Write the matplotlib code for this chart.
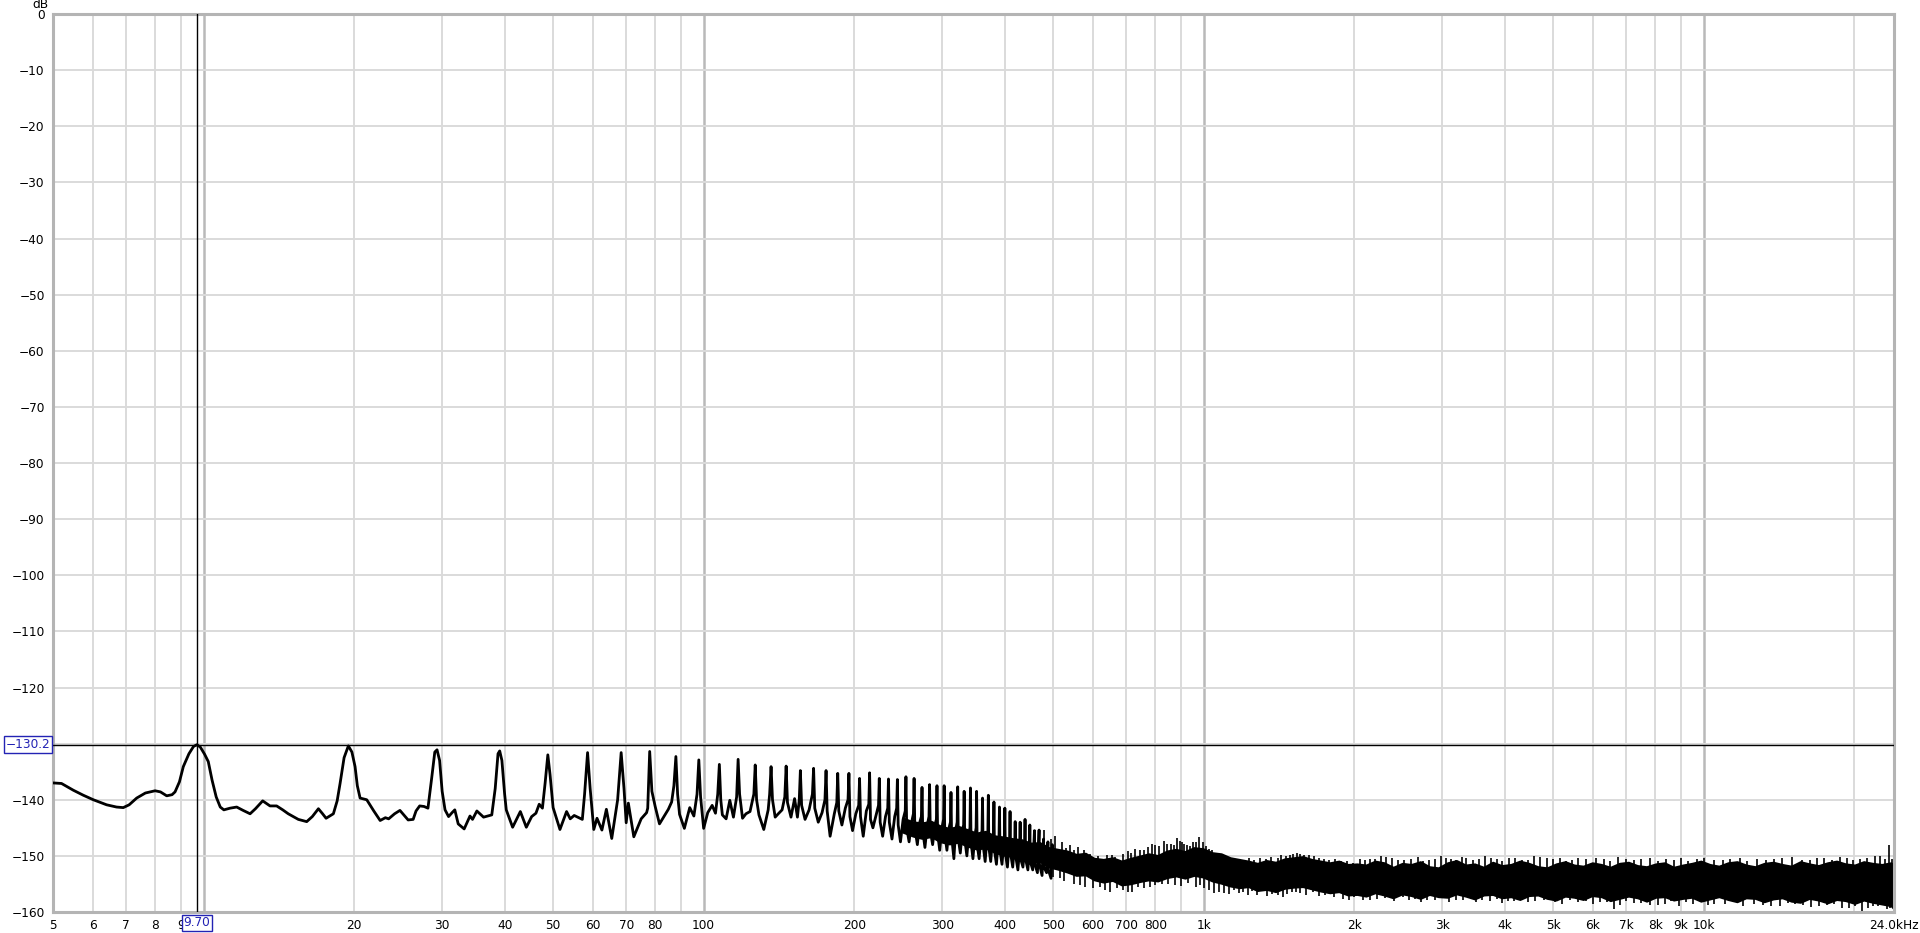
import numpy as np
import matplotlib
matplotlib.use('Agg')
from matplotlib import pyplot as plt
from matplotlib.ticker import NullLocator
from matplotlib.transforms import blended_transform_factory

# Traced line, 5 Hz - 500 Hz (Hz, dB):
trace_freq = [5.0, 5.2, 5.49, 5.75, 6.02, 6.40, 6.70, 6.91, 7.10, 7.35, 7.65, 8.0, 8.2, 8.44, 8.65, 8.77,
              8.95, 9.11, 9.35, 9.55, 9.70, 9.85, 10.05, 10.22, 10.4, 10.6, 10.8, 10.98, 11.3, 11.65, 12.0,
              12.39, 12.7, 13.13, 13.58, 14.0, 14.4, 14.77, 15.47, 16.08, 16.5, 16.97, 17.3, 17.58, 18.18,
              18.5, 18.75, 19.1, 19.48, 19.8, 20.09, 20.3, 20.56, 21.2, 21.9, 22.55, 23.1, 23.45, 24.1, 24.7,
              25.2, 25.65, 26.25, 26.6, 27.05, 27.6, 28.1, 28.6, 29.0, 29.3, 29.65, 30.0, 30.4, 30.9, 31.4,
              31.8, 32.3, 33.2, 34.1, 34.5, 35.2, 36.3, 37.7, 38.3, 38.8, 39.1, 39.5, 40.0, 40.3, 41.5, 43.0,
              44.2, 45.3, 46.2, 46.9, 47.6, 48.2, 48.8, 49.3, 50.0, 51.6, 53.2, 54.1, 55.1, 57.2, 57.8, 58.6,
              59.3, 60.3, 61.2, 62.6, 63.9, 65.5, 67.3, 68.4, 69.3, 70.0, 70.7, 72.5, 75.0, 76.9, 77.3, 78.0,
              78.8, 80.0, 81.6, 85.0, 86.3, 87.2, 88.0, 88.7, 89.5, 91.5, 93.8, 95.6, 97.0, 97.8, 98.6, 100.0,
              101.9, 104.0, 105.6, 106.7, 107.5, 108.2, 109.0, 110.9, 112.8, 114.7, 116.4, 117.2, 118.0,
              119.6, 121.5, 123.8, 126.0, 126.8, 127.6, 129.0, 131.9, 134.6, 135.5, 136.4, 137.3, 139.0,
              141.0, 143.5, 145.3, 146.2, 147.1, 149.5, 152.0, 154.0, 155.3, 156.1, 157.0, 159.5, 162.5,
              165.0, 165.9, 166.8, 169.5, 172.5, 174.8, 175.7, 176.6, 179.0, 182.5, 184.6, 185.4, 186.3,
              189.0, 192.0, 194.4, 195.2, 196.1, 198.5, 201.5, 204.2, 205.0, 205.9, 208.5, 211.5, 213.9,
              214.7, 215.6, 218.0, 221.5, 223.7, 224.5, 225.4, 228.0, 231.0, 233.4, 234.2, 235.1, 238.0,
              241.0, 243.2, 244.0, 244.9, 247.5, 250.5, 253.0, 253.8, 254.7, 257.5, 260.5, 262.7, 263.5,
              264.4, 267.5, 270.5, 272.5, 273.3, 274.2, 277.0, 280.0, 282.2, 283.0, 283.9, 287.0, 290.0,
              292.0, 292.8, 293.7, 296.5, 299.5, 301.8, 302.6, 303.5, 306.5, 309.5, 311.5, 312.3, 313.2,
              316.5, 319.0, 321.3, 322.1, 323.0, 326.0, 329.0, 331.0, 331.8, 332.7, 336.0, 339.0, 340.8,
              341.6, 342.5, 345.5, 348.5, 350.6, 351.4, 352.3, 355.5, 358.5, 360.3, 361.1, 362.0, 365.5,
              368.5, 370.1, 370.9, 371.8, 375.0, 378.0, 379.8, 380.6, 381.5, 385.0, 388.0, 389.6, 390.4,
              391.3, 395.0, 398.0, 399.4, 400.2, 401.1, 405.0, 408.0, 409.1, 409.9, 410.8, 415.0, 418.0,
              418.9, 419.7, 420.6, 425.0, 428.5, 429.4, 430.3, 435.0, 438.3, 439.2, 440.1, 445.0, 448.2,
              449.0, 449.9, 455.0, 458.7, 459.6, 465.0, 468.5, 469.4, 475.0, 478.2, 479.1, 485.0, 488.0,
              489.0, 495.0, 497.7, 500.0]
trace_db = [-137.0, -137.1, -138.3, -139.2, -140.0, -140.9, -141.3, -141.4, -140.9, -139.7, -138.8, -138.4,
            -138.6, -139.3, -139.1, -138.6, -136.8, -134.1, -131.8, -130.5, -130.2, -130.6, -131.9, -133.2,
            -136.5, -139.5, -141.3, -141.8, -141.5, -141.3, -141.9, -142.5, -141.6, -140.2, -141.1, -141.1,
            -141.8, -142.5, -143.5, -143.9, -143.0, -141.6, -142.5, -143.3, -142.5, -140.2, -137.1, -132.5,
            -130.4, -131.5, -134.1, -137.5, -139.7, -140.0, -142.0, -143.7, -143.2, -143.4, -142.5, -141.9,
            -142.8, -143.6, -143.5, -142.0, -141.1, -141.2, -141.5, -136.0, -131.5, -131.1, -133.0, -138.5,
            -141.8, -143.0, -142.3, -141.8, -144.3, -145.2, -142.9, -143.5, -142.0, -143.1, -142.7, -138.0,
            -131.8, -131.3, -133.0, -139.0, -141.8, -144.9, -142.1, -144.9, -143.0, -142.4, -140.8, -141.5,
            -137.0, -132.0, -135.5, -141.4, -145.3, -142.1, -143.4, -142.8, -143.5, -139.0, -131.6, -138.0,
            -145.3, -143.3, -145.4, -141.7, -146.9, -140.0, -131.6, -138.0, -144.1, -140.6, -146.6, -143.4,
            -142.3, -141.5, -131.4, -138.5, -141.2, -144.3, -141.7, -140.4, -137.5, -132.3, -139.0, -142.6,
            -145.1, -141.4, -142.9, -139.0, -132.9, -139.5, -145.1, -142.3, -141.0, -142.4, -139.0, -133.7,
            -140.0, -142.7, -143.4, -140.1, -143.1, -139.5, -132.8, -139.0, -143.3, -142.5, -142.1, -139.0,
            -133.8, -140.0, -142.7, -145.3, -141.8, -139.0, -134.1, -140.0, -143.1, -142.5, -141.8, -139.5,
            -134.0, -140.5, -143.1, -139.8, -143.1, -140.0, -134.8, -141.0, -143.5, -141.8, -139.0, -134.4,
            -141.5, -144.0, -142.3, -140.0, -134.8, -142.0, -146.5, -142.5, -140.5, -135.3, -142.0, -144.5,
            -141.5, -140.0, -135.3, -143.0, -145.5, -142.5, -141.0, -136.2, -143.0, -146.5, -142.0, -140.8,
            -135.2, -143.5, -145.0, -142.5, -141.0, -136.2, -144.0, -146.5, -143.0, -141.5, -136.3, -144.0,
            -147.0, -143.0, -141.5, -136.4, -144.5, -147.5, -143.5, -142.0, -135.9, -145.0, -147.5, -144.0,
            -142.5, -136.2, -145.0, -148.0, -144.0, -143.0, -137.8, -145.5, -148.5, -144.5, -143.0, -137.3,
            -145.5, -148.0, -144.5, -143.5, -137.5, -146.0, -149.0, -145.0, -143.5, -137.5, -146.0, -149.0,
            -145.0, -144.0, -138.7, -146.5, -150.5, -145.5, -144.0, -137.7, -147.0, -149.5, -145.5, -144.5,
            -138.5, -147.0, -150.0, -146.0, -145.0, -137.9, -147.5, -150.5, -146.5, -145.0, -138.5, -148.0,
            -150.5, -146.5, -145.5, -139.7, -148.0, -151.0, -147.0, -145.5, -139.2, -148.5, -151.0, -147.0,
            -146.0, -140.4, -149.0, -151.5, -147.5, -146.5, -141.3, -149.0, -151.5, -148.0, -147.0, -141.5,
            -149.5, -152.0, -148.0, -147.0, -142.1, -149.5, -152.0, -148.5, -147.5, -143.9, -150.0, -152.5,
            -148.5, -144.0, -150.5, -152.0, -148.5, -143.5, -150.5, -152.5, -148.5, -144.5, -151.0, -152.5,
            -145.5, -151.5, -153.0, -145.4, -151.5, -153.5, -147.0, -152.0, -153.0, -147.5, -152.5, -154.0,
            -148.0, -150.5]

# Dense noise band, 250 Hz - 24 kHz (upper and lower edge):
band_freq = [250, 262, 273, 285, 297, 310, 323, 337, 351, 366, 382, 398, 415, 433, 451, 470, 490, 511, 533,
             556, 580, 604, 630, 657, 685, 714, 745, 776, 809, 844, 880, 917, 956, 997, 1040, 1084, 1130,
             1178, 1228, 1280, 1335, 1392, 1451, 1513, 1577, 1644, 1714, 1787, 1863, 1942, 2025, 2111, 2201,
             2295, 2392, 2494, 2600, 2711, 2826, 2946, 3072, 3202, 3339, 3481, 3629, 3783, 3944, 4112, 4287,
             4469, 4659, 4858, 5064, 5280, 5504, 5738, 5982, 6237, 6502, 6779, 7067, 7368, 7681, 8008, 8348,
             8703, 9074, 9460, 9862, 10282, 10719, 11175, 11650, 12146, 12663, 13201, 13763, 14348, 14959,
             15595, 16259, 16950, 17671, 18423, 19207, 20024, 20876, 21764, 22690, 23655, 24000]
band_top = [-143.2, -143.9, -144.1, -143.8, -144.6, -145.1, -144.7, -145.3, -145.9, -145.6, -146.4, -146.6,
            -146.9, -147.1, -147.7, -147.6, -148.5, -148.8, -149.1, -149.7, -149.5, -150.4, -150.6, -150.3,
            -150.9, -150.4, -150.0, -149.6, -149.9, -149.1, -148.8, -149.2, -148.5, -148.7, -149.4, -149.6,
            -150.3, -150.6, -150.9, -151.3, -150.8, -151.1, -150.5, -150.3, -150.1, -150.6, -150.9, -151.2,
            -150.9, -151.5, -151.4, -151.6, -150.9, -151.2, -152.0, -151.3, -151.5, -151.0, -151.9, -152.1,
            -151.2, -150.8, -151.6, -151.4, -152.0, -151.1, -151.7, -151.5, -150.9, -151.3, -151.9, -152.1,
            -151.4, -151.0, -151.6, -151.8, -151.2, -151.5, -152.0, -151.3, -151.1, -151.7, -151.9, -151.4,
            -151.2, -152.0, -151.6, -151.3, -150.9, -151.5, -151.8, -151.2, -151.0, -151.6, -151.9, -151.3,
            -151.1, -151.5, -151.8, -151.0, -151.4, -151.7, -151.2, -150.9, -151.4, -151.6, -151.0, -151.3,
            -151.5, -151.2, -151.6]
band_bot = [-145.8, -146.5, -146.9, -146.6, -147.5, -147.9, -147.6, -148.3, -148.8, -148.6, -149.4, -149.9,
            -150.1, -150.6, -151.2, -151.0, -152.0, -152.4, -152.9, -153.5, -153.4, -154.3, -154.7, -154.4,
            -155.2, -155.0, -154.6, -154.3, -154.5, -153.9, -153.6, -154.0, -153.5, -153.8, -154.5, -154.9,
            -155.4, -155.7, -155.5, -156.2, -156.0, -156.4, -155.8, -155.6, -155.5, -155.9, -156.3, -156.6,
            -156.4, -157.0, -156.9, -157.2, -156.6, -157.0, -157.5, -156.8, -157.1, -157.6, -156.9, -157.3,
            -157.4, -156.8, -157.2, -157.7, -157.0, -156.9, -157.5, -157.3, -157.8, -157.1, -157.0, -157.6,
            -157.9, -157.2, -157.4, -157.8, -157.1, -157.3, -158.0, -157.6, -157.2, -157.5, -158.1, -157.4,
            -157.3, -157.9, -157.6, -157.4, -158.1, -157.7, -157.3, -157.8, -158.2, -157.5, -157.6, -158.2,
            -157.7, -157.5, -158.1, -158.3, -157.6, -157.9, -158.4, -157.8, -158.0, -158.5, -157.9, -158.3,
            -158.6, -158.9, -159.5]

# Spikes sticking out of the band (tip levels):
up_freq = [480, 505, 520, 540, 560, 575, 592, 615, 640, 665, 690, 717, 745, 775, 800, 834, 860, 883, 905, 925,
           950, 980, 1025, 1060, 1097, 1150, 1200, 1260, 1330, 1405, 1460, 1510, 1560, 1620, 1700, 1780,
           1880, 1990, 2100, 2200, 2316, 2450, 2600, 2750, 2900, 3050, 3200, 3350, 3550, 3750, 3950, 4200,
           4450, 4700, 5000, 5300, 5600, 6100, 6500, 7000, 7500, 8100, 8700, 9300, 9700, 10500, 11300,
           12200, 13300, 14300, 15700, 16800, 18000, 19300, 20500, 22000, 23000, 23450,
           495, 530, 550, 600, 655, 705, 730, 760, 788, 815, 845, 870, 895, 915, 940, 965, 995, 1010, 1040,
           1080, 1120, 1180, 1230, 1295, 1365, 1430, 1485, 1535, 1590, 1660, 1740, 1830, 1930, 2050, 2150,
           2260, 2380, 2520, 2680, 2820, 2980, 3120, 3280, 3450, 3650, 3850, 4080, 4320, 4580, 4850, 5150,
           5450, 5800, 6300, 6750, 7250, 7800, 8400, 9000, 10000, 10900, 11800, 12800, 13800, 15000,
           16300, 17400, 18700, 19900, 21200, 22500, 23800]
up_db = [-145.4, -146.5, -147.5, -148.0, -148.5, -149.0, -149.7, -150.0, -149.8, -150.2, -149.6, -149.5,
         -149.0, -148.4, -148.0, -147.4, -147.8, -146.9, -147.5, -148.0, -147.6, -146.7, -148.7, -149.5,
         -150.7, -150.5, -151.0, -150.8, -150.6, -150.4, -150.0, -149.7, -149.6, -149.9, -150.3, -150.8,
         -151.0, -151.3, -150.8, -150.6, -150.2, -150.7, -150.5, -150.9, -150.6, -150.3, -150.8, -150.4,
         -150.6, -150.3, -150.9, -150.4, -150.7, -150.2, -150.6, -150.9, -150.4, -150.3, -150.9, -150.6,
         -150.5, -151.0, -150.7, -150.9, -150.5, -150.8, -150.5, -150.9, -150.8, -150.4, -150.8, -150.3,
         -150.7, -150.4, -150.6, -150.0, -150.5, -148.1,
         -147.0, -148.6, -149.0, -150.3, -149.9, -149.2, -148.8, -148.9, -147.9, -148.3, -147.8, -148.1,
         -147.3, -147.9, -148.3, -147.5, -147.6, -148.2, -149.0, -149.8, -150.2, -150.6, -150.4, -150.3,
         -150.2, -149.9, -149.8, -149.4, -149.8, -150.1, -150.5, -150.6, -150.9, -150.6, -150.5, -150.0,
         -150.4, -150.7, -150.2, -150.8, -150.1, -150.5, -150.2, -150.7, -150.1, -150.6, -150.3, -150.8,
         -150.1, -150.4, -150.3, -150.7, -150.5, -150.6, -150.2, -150.8, -150.3, -150.6, -150.4, -150.3,
         -150.7, -150.3, -150.6, -150.5, -150.2, -150.7, -150.4, -150.2, -150.7, -150.3, -150.1, -150.6]
dn_freq = [500, 525, 550, 580, 620, 650, 690, 720, 760, 800, 850, 900, 965, 1000, 1050, 1097, 1150, 1200,
           1250, 1306, 1370, 1440, 1500, 1560, 1650, 1750, 1900, 2000, 2150, 2300, 2500, 2650, 2800, 3000,
           3200, 3400, 3600, 3850, 4050, 4300, 4600, 5050, 5400, 5800, 6200, 6600, 7000, 7500, 8100, 8600,
           9200, 9800, 10500, 11500, 12600, 13600, 14700, 15800, 17000, 18200, 19500, 20700, 21800, 22800,
           23600, 24000,
           515, 565, 600, 635, 670, 705, 740, 780, 825, 875, 930, 985, 1025, 1075, 1125, 1175, 1225, 1280,
           1340, 1405, 1470, 1530, 1600, 1700, 1820, 1950, 2080, 2220, 2400, 2570, 2720, 2900, 3100, 3300,
           3500, 3730, 3950, 4180, 4450, 4800, 5200, 5600, 6000, 6400, 6800, 7250, 7800, 8350, 8900, 9500,
           10200, 11000, 12000, 13100, 14200, 15200, 16400, 17600, 18900, 20100, 21300, 22300, 23200]
dn_db = [-153.8, -154.5, -155.0, -155.5, -155.5, -156.5, -156.1, -156.5, -155.8, -155.2, -155.0, -155.3,
         -155.5, -155.8, -156.7, -156.7, -156.0, -156.5, -156.2, -156.1, -156.8, -157.3, -156.4, -156.6,
         -156.5, -157.0, -157.6, -157.4, -157.8, -157.5, -157.3, -157.6, -157.9, -157.5, -157.8, -157.4,
         -157.9, -157.6, -158.1, -157.7, -158.0, -158.2, -157.8, -158.0, -158.3, -159.5, -158.1, -158.4,
         -158.7, -158.0, -158.3, -158.1, -158.5, -158.2, -158.6, -158.9, -158.4, -158.8, -159.0, -158.6,
         -159.3, -160.0, -159.0, -158.6, -159.3, -160.0,
         -154.0, -155.2, -155.8, -156.0, -155.8, -156.4, -155.6, -155.6, -155.0, -155.2, -154.9, -155.2,
         -156.0, -156.4, -156.8, -156.6, -157.0, -156.9, -157.1, -156.9, -156.8, -156.5, -156.9, -157.2,
         -157.4, -157.8, -157.9, -157.6, -158.0, -157.8, -158.2, -157.9, -158.2, -157.9, -158.3, -158.0,
         -158.4, -158.0, -158.3, -157.9, -158.5, -158.2, -158.6, -158.2, -158.7, -158.4, -158.8, -158.5,
         -158.9, -158.6, -158.8, -158.5, -159.0, -158.7, -158.9, -158.6, -159.1, -158.8, -159.2, -158.9,
         -159.2, -159.0, -159.5]

# Axis ticks and grid:
tick_freqs = [5, 6, 7, 8, 9, 20, 30, 40, 50, 60, 70, 80, 100, 200, 300, 400, 500, 600, 700, 800,
              1000, 2000, 3000, 4000, 5000, 6000, 7000, 8000, 9000, 10000, 24000]
tick_labels = ['5', '6', '7', '8', '9', '20', '30', '40', '50', '60', '70', '80', '100', '200', '300', '400',
               '500', '600', '700', '800', '1k', '2k', '3k', '4k', '5k', '6k', '7k', '8k', '9k', '10k',
               '24.0kHz']
minor_grid = [6, 7, 8, 9, 20, 30, 40, 50, 60, 70, 80, 90, 200, 300, 400, 500, 600, 700, 800, 900,
              2000, 3000, 4000, 5000, 6000, 7000, 8000, 9000, 20000]
decade_grid = [10, 100, 1000, 10000]
db_ticks = list(range(-160, 1, 10))

# Cursor:
cursor_freq = 9.70
cursor_db = -130.2

blue = '#2323b4'

# Create figure and axes:
fig = plt.figure(figsize=(19.2, 9.33), dpi=100)
ax = fig.add_axes([53 / 1920, 1 - 912 / 933, 1841 / 1920, 898 / 933])
ax.set_xscale('log')
ax.set_xlim(5, 24000)
ax.set_ylim(-160, 0)

## Grid lines:
for f in minor_grid:
    ax.axvline(f, color='#dadada', lw=1.4, zorder=0)
for f in decade_grid:
    ax.axvline(f, color='#b9b9b9', lw=1.8, zorder=0)
for d in db_ticks[1:-1]:
    ax.axhline(d, color='#dadada', lw=1.4, zorder=0)

## Noise band and its spikes:
ax.fill_between(band_freq, band_top, band_bot, color='black', lw=1.2, zorder=2)
up_base = np.interp(np.log10(up_freq), np.log10(band_freq), band_top) - 1.0
dn_base = np.interp(np.log10(dn_freq), np.log10(band_freq), band_bot) + 1.0
ax.vlines(up_freq, up_base, up_db, color='black', lw=1.2, zorder=2)
ax.vlines(dn_freq, dn_base, dn_db, color='black', lw=1.2, zorder=2)

## Traced line:
ax.plot(trace_freq, trace_db, color='black', lw=2.0, solid_joinstyle='round', zorder=3)

## Cursor lines:
ax.axvline(cursor_freq, color='black', lw=1.0, zorder=4)
ax.axhline(cursor_db, color='black', lw=1.0, zorder=4)

## Ticks and labels (the -130 label sits under the cursor box):
ax.xaxis.set_minor_locator(NullLocator())
ax.set_xticks(tick_freqs)
ax.set_xticklabels(tick_labels)
ax.set_yticks(db_ticks)
ax.set_yticklabels(['' if d == -130 else str(d).replace('-', '\u2212') for d in db_ticks])
ax.tick_params(axis='both', length=0, labelsize=8.7, colors='black')
ax.tick_params(axis='x', pad=5)
ax.tick_params(axis='y', pad=6)

for s in ax.spines.values():
    s.set_color('#b4b4b4')
    s.set_linewidth(2.2)

fig.text(40 / 1920, 1 - 5 / 933, 'dB', fontsize=8.7, ha='center', va='center')

## Cursor value boxes:
tr_y = blended_transform_factory(ax.transAxes, ax.transData)
ax.text(-0.0136, cursor_db, '\u2212130.2', transform=tr_y, ha='center', va='center', fontsize=8.7,
        color=blue, zorder=6, clip_on=False,
        bbox=dict(boxstyle='square,pad=0.15', fc='white', ec=blue, lw=1.0))
tr_x = blended_transform_factory(ax.transData, ax.transAxes)
ax.text(cursor_freq, -0.0122, '9.70', transform=tr_x, ha='center', va='center', fontsize=8.7,
        color=blue, zorder=6, clip_on=False,
        bbox=dict(boxstyle='square,pad=0.15', fc='white', ec=blue, lw=1.0))

plt.savefig('out.png', dpi=100)
plt.close(fig)
